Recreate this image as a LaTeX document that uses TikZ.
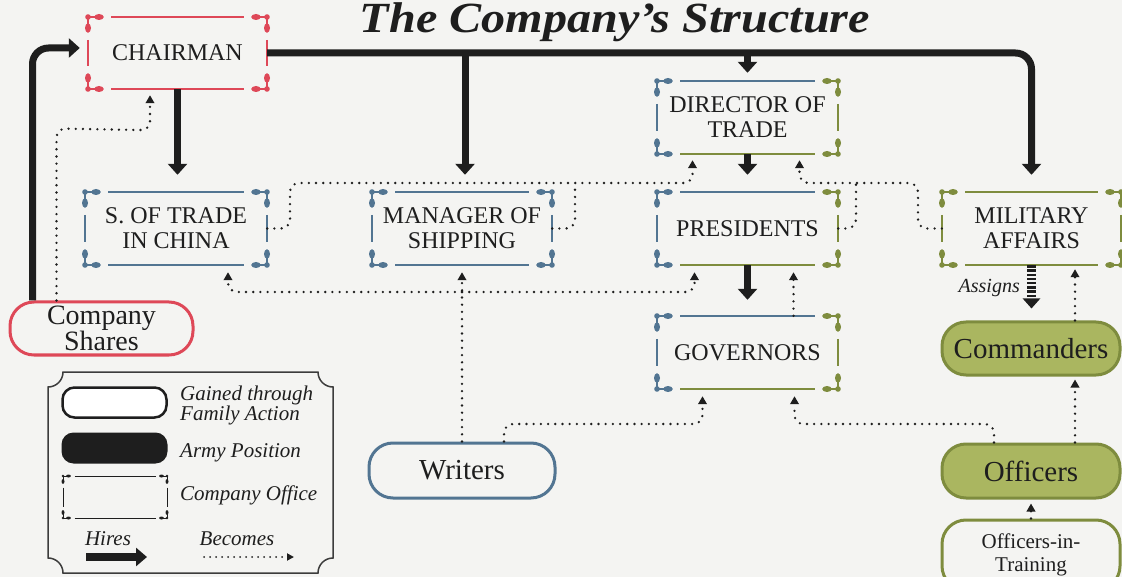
\documentclass[tikz,border=0pt]{standalone}
\usepackage{fontspec}
\setmainfont{Liberation Serif}
\usetikzlibrary{arrows.meta,calc}
\definecolor{ink}{RGB}{30,30,30}
\definecolor{paper}{RGB}{244,244,242}
\definecolor{cred}{RGB}{222,72,88}
\definecolor{cblue}{RGB}{82,117,146}
\definecolor{cgreen}{RGB}{126,140,62}
\definecolor{cfill}{RGB}{170,182,96}
\definecolor{frameink}{RGB}{60,60,60}
% corner ornament: x y hx vy colour scale
\newcommand\orn[6]{%
  \fill[#5] (#1,#2) circle ({2.8*#6});
  \draw[#5, line width={#6*1.6pt}] (#1,#2) -- ++({13*(#3)*#6},0);
  \draw[#5, line width={#6*1.6pt}] (#1,#2) -- ++(0,{13*(#4)*#6});
  \fill[#5] ({#1+11*(#3)*#6},#2) ellipse ({4.8*#6} and {3*#6});
  \fill[#5] (#1,{#2+11*(#4)*#6}) ellipse ({3*#6} and {4.8*#6});
}
% office frame: x0 y0 x1 y1 colourA colourB scale
\newcommand\officeframe[7]{%
  \orn{#1}{#2}{1}{1}{#5}{#7}
  \orn{#3}{#2}{-1}{1}{#6}{#7}
  \orn{#1}{#4}{1}{-1}{#5}{#7}
  \orn{#3}{#4}{-1}{-1}{#6}{#7}
  \draw[#5, line width={#7*2pt}] ({#1+23*#7},#2) -- ({#3-23*#7},#2) (#1,{#2+23*#7}) -- (#1,{#4-23*#7});
  \draw[#6, line width={#7*2pt}] ({#1+23*#7},#4) -- ({#3-23*#7},#4) (#3,{#2+23*#7}) -- (#3,{#4-23*#7});
}
\begin{document}
\begin{tikzpicture}[x=1pt,y=-1pt,
  office/.style={inner sep=0pt, align=center, text=ink, font=\fontsize{24}{25}\selectfont},
  pill/.style={draw, rounded corners=24pt, line width=3pt, inner sep=0pt, align=center, text=ink},
  hire/.style={draw=ink, line width=7pt, rounded corners=16pt, -{Triangle[width=19pt,length=11pt]}},
  becomesline/.style={draw=ink, line width=2.6pt, line cap=round, dash pattern=on 0pt off 7.2pt, rounded corners=9pt},
  becomes/.style={becomesline, -{Triangle[width=8.5pt,length=8pt]}},
  legtext/.style={anchor=base west, inner sep=0pt, text=ink, font=\fontsize{21}{21}\selectfont\itshape},
]
\path[use as bounding box, fill=paper] (0,0) rectangle (1122,577);

% title
\node[anchor=base, inner sep=0pt, text=ink, font=\fontsize{43}{43}\selectfont\bfseries\itshape] (title) at (615,33) {\scalebox{1.12}[1]{The Company’s Structure}};

% office nodes
\node[office, minimum width=179pt, minimum height=72pt] (chair) at (177.5,53) {CHAIRMAN};
\node[office, minimum width=182pt, minimum height=73pt] (sot) at (176,228.5) {S. OF TRADE\\IN CHINA};
\node[office, minimum width=180pt, minimum height=73pt] (mos) at (462,228.5) {MANAGER OF\\SHIPPING};
\node[office, minimum width=181pt, minimum height=73pt] (dot) at (747.5,117.5) {DIRECTOR OF\\TRADE};
\node[office, minimum width=181pt, minimum height=73pt] (pres) at (747.5,228.5) {PRESIDENTS};
\node[office, minimum width=181pt, minimum height=73pt] (gov) at (747.5,352.5) {GOVERNORS};
\node[office, minimum width=179pt, minimum height=73pt] (ma) at (1031.5,228.5) {MILITARY\\AFFAIRS};

\officeframe{88}{17}{267}{89}{cred}{cred}{1}
\officeframe{85}{192}{267}{265}{cblue}{cblue}{1}
\officeframe{372}{192}{552}{265}{cblue}{cblue}{1}
\officeframe{657}{81}{838}{154}{cblue}{cgreen}{1}
\officeframe{657}{192}{838}{265}{cblue}{cgreen}{1}
\officeframe{657}{316}{838}{389}{cblue}{cgreen}{1}
\officeframe{942}{192}{1121}{265}{cgreen}{cgreen}{1}

% pill nodes
\node[pill, draw=cred, minimum width=183pt, minimum height=53pt, font=\fontsize{28}{23}\selectfont] (shares) at (101.5,328.5) {Company\\Shares};
\node[pill, draw=cblue, minimum width=186pt, minimum height=55pt, font=\fontsize{29}{29}\selectfont] (writers) at (462,470.5) {Writers};
\node[pill, draw=cgreen, fill=cfill, minimum width=178pt, minimum height=53pt, font=\fontsize{29}{29}\selectfont] (cmd) at (1031,348.5) {Commanders};
\node[pill, draw=cgreen, fill=cfill, minimum width=178pt, minimum height=54pt, font=\fontsize{29}{29}\selectfont] (off) at (1031,471) {Officers};
\node[pill, draw=cgreen, minimum width=178pt, minimum height=70pt, font=\fontsize{21}{23}\selectfont] (oit) at (1031,555) {Officers-in-\\Training};

% hires (thick arrows)
\draw[hire] ($(shares.north west)+(24,0)$) |- ($(chair.west)+(-8,-5)$);
\draw[hire] (chair.east) -- (chair.east -| ma.north) -- ($(ma.north)+(0,-17)$);
\coordinate (mtop) at ($(mos.north)+(3,0)$);
\draw[hire] (chair.east -| mtop) -- ($(mtop)+(0,-17)$);
\draw[hire] (chair.east -| dot.north) -- ($(dot.north)+(0,-8)$);
\draw[hire] (chair.south) -- ($(chair.south |- sot.north)+(0,-17)$);
\draw[hire] (dot.south) -- ($(pres.north)+(0,-17)$);
\draw[hire] (pres.south) -- ($(gov.north)+(0,-16)$);

% assigns
\draw[ink, line width=9pt, dash pattern=on 2.4pt off 1.8pt, -{Triangle[width=17pt,length=10pt]}] (ma.south) -- ($(cmd.north)+(0.5,-12)$);
\node[anchor=base east, inner sep=0pt, text=ink, font=\fontsize{20}{20}\selectfont\itshape] (assigns) at (1020,293) {Assigns};

% becomes (dotted)
\draw[becomes] ($(shares.north west)+(48,0)$) -- ($(shares.north west)+(48,-172)$) -- ($(chair.south)+(-27.5,41)$) -- ($(chair.south)+(-27.5,6)$);
\draw[becomes] (sot.east) -- (290,228.5) -- (290,183) -- (692.5,183) -- ($(dot.south)+(-55,6)$);
\draw[becomesline] (mos.east) -- (575,228.5) -- (575,183);
\draw[becomesline] (pres.east) -- (856,228.5) -- (856,183);
\draw[becomes] (ma.west) -- (918,228.5) -- (918,183) -- (799.5,183) -- ($(dot.south)+(52,6)$);
\coordinate (wj) at (462,292);
\draw[becomes] (writers.north) -- ($(mos.south)+(0,7)$);
\draw[becomes] (wj) -- (228,292) -- ($(sot.south)+(52,7)$);
\draw[becomes] (wj) -- (694.5,292) -- ($(pres.south)+(-53,7)$);
\draw[becomes] ($(gov.north)+(46,0)$) -- ($(pres.south)+(46,7)$);
\draw[becomes] ($(writers.north)+(42,0)$) -- (504,424) -- (702.5,424) -- ($(gov.south)+(-45,7)$);
\draw[becomes] ($(off.north)+(-37,0)$) -- (994,424) -- (794.5,424) -- ($(gov.south)+(47,7)$);
\draw[becomes] ($(off.north)+(44,0)$) -- ($(cmd.south)+(44,3)$);
\draw[becomes] ($(cmd.north)+(44,0)$) -- ($(ma.south)+(43.5,4)$);
\draw[becomes] (oit.north) -- ($(off.south)+(0,4)$);

% legend
\draw[frameink, line width=1.5pt] (63,372) -- (318,372) .. controls (318,380.3) and (324.7,387) .. (333,387) -- (333,558) .. controls (324.7,558) and (318,564.7) .. (318,573) -- (63,573) .. controls (63,564.7) and (56.3,558) .. (48,558) -- (48,387) .. controls (56.3,387) and (63,380.3) .. (63,372) -- cycle;
\node[draw=ink, line width=2.5pt, fill=white, rounded corners=12pt, minimum width=104pt, minimum height=30pt, inner sep=0pt] (lgfam) at (114.5,402.5) {};
\node[fill=ink, rounded corners=12pt, minimum width=106pt, minimum height=31pt, inner sep=0pt] (lgarmy) at (114.5,448) {};
\node[minimum width=104pt, minimum height=42pt, inner sep=0pt] (lgoff) at (115,497) {};
\officeframe{63}{476}{167}{518}{ink}{ink}{0.5}
\node[legtext] (lt1) at (180,400) {Gained through};
\node[legtext] (lt2) at (180,420) {Family Action};
\node[legtext] (lt3) at (180,457) {Army Position};
\node[legtext] (lt4) at (180,500) {Company Office};
\node[legtext, anchor=base] (lt5) at (108,545) {Hires};
\node[legtext, anchor=base] (lt6) at (237,545) {Becomes};
\coordinate (h1) at (86,557);
\coordinate (h2) at (147,557);
\draw[hire, line width=8pt, -{Triangle[width=18pt,length=11pt]}] (h1) -- (h2);
\coordinate (b1) at (204,557);
\coordinate (b2) at (294,557);
\draw[ink, line width=2pt, line cap=round, dash pattern=on 0pt off 6pt, -{Triangle[width=7pt,length=7pt]}] (b1) -- (b2);
\end{tikzpicture}
\end{document}
